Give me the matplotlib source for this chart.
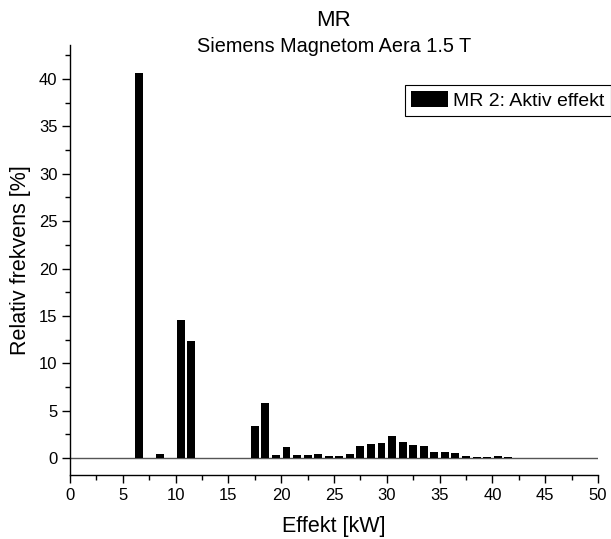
import matplotlib
matplotlib.use("Agg")
import matplotlib.pyplot as plt
from matplotlib.ticker import MultipleLocator

plt.rcParams['font.family'] = ['Liberation Sans', 'DejaVu Sans']

# Bin centres (kW) and relative frequency (%)
effekt = [6.5, 8.5, 10.5, 11.5, 17.5, 18.5, 19.5, 20.5, 21.5, 22.5, 23.5,
          24.5, 25.5, 26.5, 27.5, 28.5, 29.5, 30.5, 31.5, 32.5, 33.5, 34.5,
          35.5, 36.5, 37.5, 38.5, 39.5, 40.5, 41.5]
frekvens = [40.6, 0.46, 14.6, 12.4, 3.33, 5.83, 0.32, 1.16, 0.32, 0.33, 0.43,
            0.2, 0.2, 0.44, 1.25, 1.45, 1.58, 2.27, 1.68, 1.4, 1.3, 0.63,
            0.63, 0.53, 0.24, 0.14, 0.14, 0.24, 0.14]

title = "MR"
subtitle = "Siemens Magnetom Aera 1.5 T"
series_label = "MR 2: Aktiv effekt"
xlabel = "Effekt [kW]"
ylabel = "Relativ frekvens [%]"

fig = plt.figure(figsize=(6.11, 5.39), dpi=100)
ax = fig.add_axes([70/611, 1-475/539, 528/611, 430/539])

ax.bar(effekt, frekvens, width=0.75, color='black', label=series_label, zorder=3)
ax.axhline(0, color='#555555', linewidth=1.0, zorder=2)

ax.set_xlim(0, 50)
ax.set_ylim(-1.8, 43.6)
ax.xaxis.set_major_locator(MultipleLocator(5))
ax.xaxis.set_minor_locator(MultipleLocator(2.5))
ax.yaxis.set_major_locator(MultipleLocator(5))
ax.yaxis.set_minor_locator(MultipleLocator(2.5))
ax.set_yticks([0, 5, 10, 15, 20, 25, 30, 35, 40])

for s in ['top', 'right']:
    ax.spines[s].set_visible(False)
for s in ['left', 'bottom']:
    ax.spines[s].set_linewidth(1.0)

ax.tick_params(which='major', direction='out', length=6, width=1.0, labelsize=12, pad=3)
ax.tick_params(which='minor', direction='out', length=3.5, width=1.0)

ax.set_xlabel(xlabel, fontsize=15.5, labelpad=10)
ax.set_ylabel(ylabel, fontsize=15.5, labelpad=6)

fig.text(334/611, 1-20/539, title, ha='center', va='center', fontsize=16)
fig.text(334/611, 1-47/539, subtitle, ha='center', va='center', fontsize=14.3)

leg = ax.legend(loc='upper left', bbox_to_anchor=(405/611, 1-85/539),
                bbox_transform=fig.transFigure, borderaxespad=0,
                fancybox=False, edgecolor='black', framealpha=1,
                fontsize=14, handlelength=1.9, handleheight=0.85,
                handletextpad=0.25, borderpad=0.32)
leg.get_frame().set_linewidth(0.8)

fig.savefig("out.png", dpi=100)
